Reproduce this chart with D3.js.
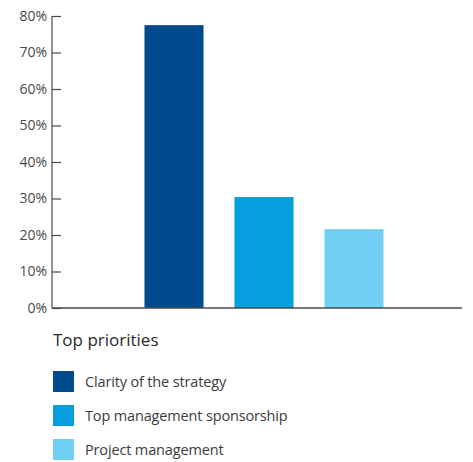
<!DOCTYPE html>
<html lang="en">
<head>
    <meta charset="utf-8">
    <title>Top priorities</title>
    <script type="text/javascript" src="https://cdn.jsdelivr.net/npm/d3@7"></script>
    <style>
        body { margin: 0; background: #fff; }
        text { font-family: "Open Sans", "Noto Sans", sans-serif; fill: #3c3c3c; }
    </style>
</head>
<body>
<script type="text/javascript">

    var categories = ["Clarity of the strategy", "Top management sponsorship", "Project management"];
    var values = [77.5, 30.4, 21.6];
    var colors = ["#004b8f", "#069edc", "#70cff3"];
    var yTicks = [0, 10, 20, 30, 40, 50, 60, 70, 80];
    var legendTitle = "Top priorities";

    var w = 473, h = 462;

    var svg = d3.select("body").append("svg")
        .attr("width", w)
        .attr("height", h);

    var yScale = d3.scaleLinear()
        .domain([0, 80])
        .range([308, 16]);

    var xScale = d3.scaleBand()
        .domain(categories)
        .range([129, 399])
        .paddingInner(0.344)
        .paddingOuter(0.172);

    //bars
    svg.selectAll("rect.bar")
        .data(values)
        .enter()
        .append("rect")
        .attr("class", "bar")
        .attr("x", function (d, i) { return xScale(categories[i]); })
        .attr("y", function (d) { return yScale(d); })
        .attr("width", xScale.bandwidth())
        .attr("height", function (d) { return yScale(0) - yScale(d); })
        .attr("fill", function (d, i) { return colors[i]; });

    //y axis, ticks pointing inward
    var yAxis = d3.axisRight(yScale)
        .tickValues(yTicks)
        .tickSize(9)
        .tickFormat(function (d) { return d + "%"; });

    var gy = svg.append("g")
        .attr("transform", "translate(52,0)")
        .call(yAxis);
    gy.select(".domain").remove();
    gy.selectAll(".tick line").attr("stroke", "#4a4a4a").attr("stroke-width", 1.2);
    gy.selectAll(".tick text")
        .attr("x", -5)
        .attr("text-anchor", "end")
        .style("font-size", "14px")
        .style("fill", "#4a4a4a");

    svg.append("line")
        .attr("x1", 52).attr("x2", 52)
        .attr("y1", yScale(80)).attr("y2", yScale(0))
        .attr("stroke", "#4a4a4a").attr("stroke-width", 1.2);

    //x axis line
    svg.append("line")
        .attr("x1", 52).attr("x2", 462)
        .attr("y1", yScale(0)).attr("y2", yScale(0))
        .attr("stroke", "#4a4a4a").attr("stroke-width", 1.4);

    //legend
    svg.append("text")
        .attr("x", 53)
        .attr("y", 346)
        .style("font-size", "17px")
        .style("fill", "#2a2a2a")
        .text(legendTitle);

    var legend = svg.selectAll("g.legend")
        .data(categories)
        .enter()
        .append("g")
        .attr("class", "legend")
        .attr("transform", function (d, i) { return "translate(53," + (371 + i * 34) + ")"; });

    legend.append("rect")
        .attr("width", 21)
        .attr("height", 21)
        .attr("fill", function (d, i) { return colors[i]; });

    legend.append("text")
        .attr("x", 32)
        .attr("y", 15.5)
        .style("font-size", "14.5px")
        .style("letter-spacing", "-0.15px")
        .text(function (d) { return d; });

</script>
</body>
</html>
